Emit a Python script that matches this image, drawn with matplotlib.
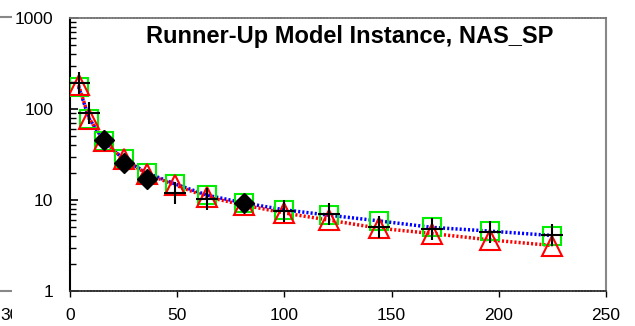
import matplotlib
matplotlib.use("Agg")
import matplotlib.pyplot as plt
from matplotlib.ticker import LogLocator, NullFormatter, FixedLocator

plt.rcParams['font.family'] = ['Liberation Sans', 'DejaVu Sans']

# processors (NAS_SP runs on square counts)
procs = [4, 9, 16, 25, 36, 49, 64, 81, 100, 121, 144, 169, 196, 225]
# model predictions (green squares / blue dotted line)
model_a = [175, 78, 44, 28, 19.8, 15.0, 11.3, 9.3, 7.8, 6.8, 5.9, 5.0, 4.55, 4.07]
# runner-up model (red triangles / red dotted line)
model_b = [183, 78, 44, 28, 19.3, 14.6, 10.8, 8.8, 7.2, 6.0, 4.9, 4.28, 3.64, 3.16]
# measured runs (black plus)
meas_x = [4, 9, 49, 64, 100, 121, 144, 169, 196, 225]
meas_y = [193, 90, 11.9, 10.3, 7.6, 7.0, 5.05, 4.8, 4.45, 4.12]
# other measured runs (black diamonds)
dia_x = [16, 25, 36, 81]
dia_y = [45.6, 25.5, 17.0, 9.3]

title = "Runner-Up Model Instance, NAS_SP"
xticks = [0, 50, 100, 150, 200, 250]

fig = plt.figure(figsize=(6.35, 3.26), dpi=100)
ax = fig.add_axes([70 / 635, 35 / 326, 536 / 635, 273 / 326])

ax.plot(procs, model_a, color='blue', linestyle=(0, (0.6, 0.6)), linewidth=2.5, zorder=2)
ax.plot(procs, model_b, color='red', linestyle=(0, (0.6, 0.6)), linewidth=2.5, zorder=2)
ax.plot(procs, model_a, linestyle='none', marker='s', markersize=13.5,
        markerfacecolor='none', markeredgecolor='#00ee00', markeredgewidth=1.5, zorder=3)
ax.plot(procs, model_b, linestyle='none', marker='^', markersize=14,
        markerfacecolor='none', markeredgecolor='red', markeredgewidth=1.5, zorder=4)
ax.plot(meas_x, meas_y, linestyle='none', marker='+', markersize=16,
        markeredgecolor='black', markeredgewidth=1.5, zorder=5)
ax.plot(dia_x, dia_y, linestyle='none', marker='D', markersize=10,
        color='black', zorder=6)

ax.set_yscale('log')
ax.set_ylim(1, 1000)
ax.set_xlim(0, 250)
ax.xaxis.set_major_locator(FixedLocator(xticks))
ax.set_xticklabels([str(t) for t in xticks])
ax.yaxis.set_minor_locator(LogLocator(base=10, subs=range(2, 10), numticks=10))
ax.yaxis.set_minor_formatter(NullFormatter())
ax.set_yticks([1, 10, 100, 1000])
ax.set_yticklabels(['1', '10', '100', '1000'])

ax.tick_params(axis='y', which='major', direction='in', length=6, width=1.2, pad=12, labelsize=12.5)
ax.tick_params(axis='y', which='minor', direction='in', length=4, width=1.0)
ax.tick_params(axis='x', which='major', direction='out', length=4, width=1.0, pad=8, labelsize=12.5)
ax.tick_params(axis='x', which='minor', bottom=False)

ax.spines['left'].set_linewidth(1.5)
ax.spines['left'].set_color('black')
ax.spines['right'].set_color('#888888')
ax.spines['right'].set_linewidth(1.5)
ax.spines['top'].set_color('#777777')
ax.spines['bottom'].set_color('#333333')
for s in ('top', 'bottom'):
    ax.spines[s].set_linestyle((0, (1, 0.7)))
    ax.spines[s].set_linewidth(1.3)

ax.text(0.522, 0.934, title, transform=ax.transAxes, ha='center', va='center',
        fontsize=17, fontweight='bold')

# cut-off edge of the neighbouring panel on the left
edge = fig.add_axes([0, 0, 12 / 635, 1])
edge.set_axis_off()
edge.set_xlim(0, 1)
edge.set_ylim(0, 1)
edge.plot([0, 1], [1 - 17 / 326, 1 - 17 / 326], color='#888888', linewidth=1.5, clip_on=True)
edge.plot([0, 1], [35 / 326, 35 / 326], color='#888888', linewidth=1.5, clip_on=True)
edge.text(0, 11 / 326, "300", fontsize=12.5, ha='left', va='center', clip_on=True)

fig.savefig("out.png", dpi=100)
